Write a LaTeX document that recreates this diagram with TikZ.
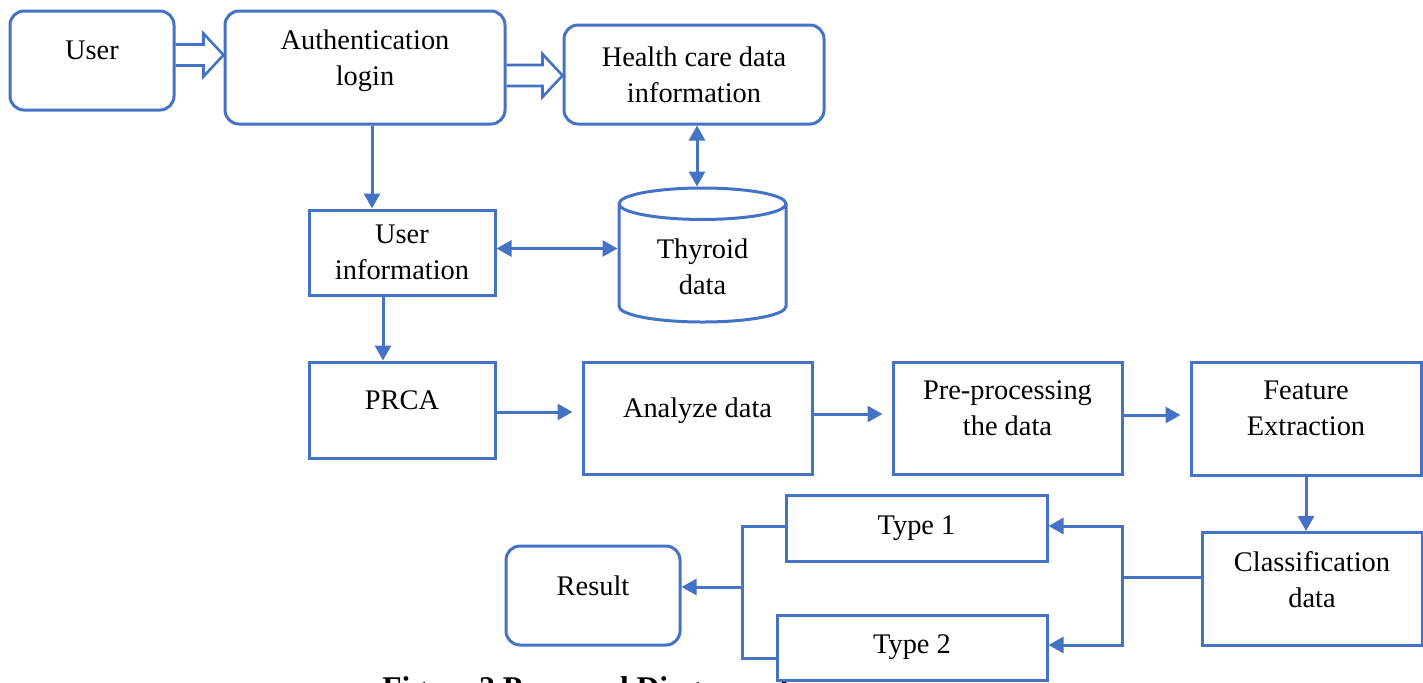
\documentclass[tikz,border=0pt]{standalone}
\usepackage{fontspec}
\setmainfont{Liberation Serif}
\usetikzlibrary{shapes.geometric, positioning, arrows.meta, calc}
\definecolor{flowblue}{HTML}{4472C4}
\newcommand{\boxfont}{\fontsize{14.2}{18}\selectfont}
\newcommand{\capfont}{\fontsize{15.8}{19}\selectfont\bfseries}
% wide outlined arrow between two points on one row
\newcommand{\hollowarrow}[2]{%
  \draw[hollow] ($(#1)+(0,-10.5)$) -- ($(#2)+(-20,-10.5)$) -- ($(#2)+(-20,-21.5)$) -- (#2)
    -- ($(#2)+(-20,21.5)$) -- ($(#2)+(-20,10.5)$) -- ($(#1)+(0,10.5)$);}

\begin{document}
\begin{tikzpicture}[
x=0.5pt, y=-0.5pt,
    box/.style={rectangle, draw=flowblue, line width=1.5pt, fill=white, align=center, inner sep=2pt, font=\boxfont},
    rbox/.style={box, rounded corners=7pt},
    raised/.style={text depth=10pt},
    db/.style={cylinder, shape border rotate=90, aspect=0.3, draw=flowblue, line width=1.5pt, fill=white, align=center, font=\boxfont},
    line/.style={draw=flowblue, line width=1.5pt},
    arrow/.style={line, -{Triangle[length=7.5pt, width=8pt]}},
    twoway/.style={line, {Triangle[length=7.5pt, width=8pt]}-{Triangle[length=7.5pt, width=8pt]}},
    hollow/.style={draw=flowblue, line width=1.3pt, line join=miter}
]
    \useasboundingbox (0,0) rectangle (1423,682);

    % --- Caption (cut off at the bottom) ---
    \node[anchor=base west, font=\capfont, inner sep=0pt] (caption) at (382,698) {Figure 2 Proposed Diagram of};

    % --- Login part ---
    \node[rbox, raised, minimum width=82pt, minimum height=49.5pt] (user) at (92,60.5) {User};
    \node[rbox, raised, minimum width=140pt, minimum height=56.5pt] (auth) at (365,67.5) {Authentication\\login};
    \node[rbox, minimum width=130pt, minimum height=49.5pt] (health) at (694,74.5) {Health care data\\information};

    \coordinate (row1) at (0,55);
    \coordinate (row2) at (0,75.5);
    \hollowarrow{user.east |- row1}{auth.west |- row1}
    \hollowarrow{auth.east |- row2}{health.west |- row2}

    % --- Data store ---
    \node[db, anchor=north, minimum width=83.5pt, minimum height=67pt] (thyroid) at (702.5,186.5) {Thyroid\\data};
    \node[box, minimum width=93pt, minimum height=42.5pt] (userinfo) at (402,252.5) {User\\information};

    \draw[arrow] ([xshift=3.5pt]auth.south) -- ([xshift=3.5pt]auth.south |- userinfo.north);
    \draw[twoway] ([xshift=1.5pt]health.south) -- ([xshift=1.5pt]health.south |- thyroid.north);
    \draw[twoway] ([yshift=2pt]userinfo.east) -- ([yshift=2pt]userinfo.east -| thyroid.west);

    % --- Processing row ---
    \node[box, raised, minimum width=93pt, minimum height=48pt] (prca) at (402,410) {PRCA};
    \node[box, raised, minimum width=114.5pt, minimum height=56pt] (analyze) at (697.5,418) {Analyze data};
    \node[box, raised, minimum width=114.5pt, minimum height=56pt] (preproc) at (1007.5,418) {Pre-processing\\the data};
    \node[box, raised, minimum width=115pt, minimum height=56.5pt] (feature) at (1306,418.5) {Feature\\Extraction};

    \draw[arrow] ([xshift=-9.5pt]userinfo.south) -- ([xshift=-9.5pt]userinfo.south |- prca.north);
    \draw[arrow, shorten >=4.5pt] ([yshift=-1pt]prca.east) -- ([yshift=-1pt]prca.east -| analyze.west);
    \draw[arrow, shorten >=4.5pt] ([yshift=2pt]analyze.east) -- ([yshift=2pt]analyze.east -| preproc.west);
    \draw[arrow, shorten >=4.5pt] ([yshift=1.5pt]preproc.east) -- ([yshift=1.5pt]preproc.east -| feature.west);

    % --- Classification and result ---
    \node[box, raised, minimum width=110pt, minimum height=56.5pt] (classif) at (1312,589) {Classification\\data};
    \node[box, minimum width=130.5pt, minimum height=33pt] (type1) at (916.5,528) {Type 1};
    \node[box, minimum width=135pt, minimum height=32.5pt] (type2) at (912,647.5) {Type 2};
    \node[rbox, raised, minimum width=87pt, minimum height=49.5pt] (result) at (593,595.5) {Result};

    \draw[arrow] (feature.south) -- (feature.south |- classif.north);

    \coordinate (split) at (1122,577);
    \draw[line] (classif.west |- split) -- (split);
    \draw[arrow] (split) |- ([yshift=1pt]type1.east);
    \draw[arrow] (split) |- ([yshift=1.25pt]type2.east);

    \coordinate (merge) at (742,587);
    \draw[line] ([yshift=1pt]type1.west) -| (merge);
    \draw[line] ([yshift=-5.25pt]type2.west) -| (merge);
    \draw[arrow] (merge) -- (merge -| result.east);

\end{tikzpicture}
\end{document}
